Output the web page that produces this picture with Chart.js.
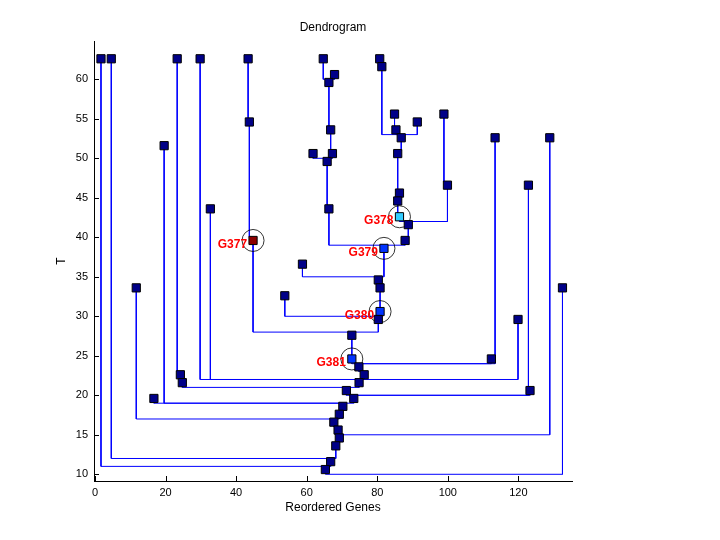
<!DOCTYPE html>
<html>
<head>
<meta charset="utf-8">
<script src="https://cdn.jsdelivr.net/npm/chart.js@4.4.1/dist/chart.umd.min.js"></script>
<style>
  html, body { margin: 0; background: #fff; }
</style>
</head>
<body>
<canvas id="dendro" width="720" height="540"></canvas>
<script>
// node positions (reordered gene position, T)
const nodeX = [1.70, 4.62, 23.3, 29.8, 43.4, 64.7, 80.7, 67.9, 66.3, 81.3,
  43.75, 66.8, 19.6, 61.8, 67.3, 65.8, 32.7, 66.3, 44.8, 84.9,
  91.35, 85.3, 86.8, 85.8, 98.9, 99.9, 86.3, 85.8, 86.3, 88.8,
  87.9, 81.9, 58.8, 80.3, 80.8, 53.8, 80.8, 80.3, 72.8, 72.8,
  74.8, 76.3, 74.85, 71.25, 73.35, 70.25, 69.25, 67.7, 68.9, 69.25,
  68.25, 66.8, 65.3, 113.4, 128.9, 122.85, 119.9, 132.5, 112.35, 123.3,
  11.7, 24.2, 24.75, 16.7];
const nodeT = [62.6, 62.6, 62.6, 62.6, 62.6, 62.6, 62.6, 60.6, 59.6, 61.6,
  54.6, 53.6, 51.6, 50.6, 50.6, 49.6, 43.6, 43.6, 39.6, 55.6,
  54.6, 53.6, 52.6, 50.6, 55.6, 46.6, 45.6, 44.6, 42.6, 41.6,
  39.6, 38.6, 36.6, 34.6, 33.6, 32.6, 30.6, 29.6, 27.6, 24.6,
  23.6, 22.6, 21.6, 20.6, 19.6, 18.6, 17.6, 16.6, 15.6, 14.6,
  13.6, 11.6, 10.6, 52.6, 52.6, 46.6, 29.6, 33.6, 24.6, 20.6,
  33.6, 22.6, 21.6, 19.6];
// parent of each node (-1 = root) and the T where the branch joins it
const nodeParent = [52, 51, 61, 42, 10, 8, 9, 8, 11, 22,
  18, 14, 45, 15, 15, 17, 42, 31, 38, 21,
  22, 22, 23, 26, 25, 29, 27, 28, 29, 30,
  31, 33, 33, 34, 36, 37, 37, 38, 39, 40,
  41, 42, 43, 44, 45, 46, 47, 48, 49, 50,
  51, 52, -1, 40, 49, 44, 42, 52, 40, 44,
  47, 62, 43, 45];
const joinT = [11, 12, 23, 22, 55, 60, 62, 60, 54, 53,
  40, 51, 19, 50, 50, 44, 22, 39, 28, 54,
  53, 53, 51, 46, 47, 42, 45, 43, 42, 40,
  39, 35, 35, 34, 31, 30, 30, 28, 25, 24,
  23, 22, 21, 20, 19, 18, 17, 16, 15, 14,
  12, 11, null, 24, 15, 20, 22, 10, 24, 20,
  17, 22, 21, 19];

// highlighted genes
const tagNodes = [18, 28, 31, 36, 39];
const tagNames = ['G377', 'G378', 'G379', 'G380', 'G381'];
const tagColors = ['#8b0000', '#33ccff', '#0033ff', '#0033ff', '#0033ff'];

const xTicks = [0, 20, 40, 60, 80, 100, 120];
const yTicks = [10, 15, 20, 25, 30, 35, 40, 45, 50, 55, 60];

const FONT = '"Liberation Sans", Arial, sans-serif';

const markerColors = nodeX.map((_, i) => {
  const k = tagNodes.indexOf(i);
  return k >= 0 ? tagColors[k] : '#000088';
});

const datasets = [];
datasets.push({
  data: nodeX.map((x, i) => ({ x: x, y: nodeT[i] })),
  pointStyle: 'rect',
  pointRadius: 5.8,
  backgroundColor: markerColors,
  borderColor: '#000',
  borderWidth: 1,
  order: 0
});
datasets.push({
  data: tagNodes.map(n => ({ x: nodeX[n], y: nodeT[n] })),
  pointStyle: 'circle',
  pointRadius: 11,
  backgroundColor: 'rgba(0,0,0,0)',
  borderColor: '#000',
  borderWidth: 0.8,
  order: 1
});
nodeParent.forEach((p, i) => {
  if (p < 0) return;
  datasets.push({
    data: [
      { x: nodeX[i], y: nodeT[i] },
      { x: nodeX[i], y: joinT[i] },
      { x: nodeX[p], y: joinT[i] },
      { x: nodeX[p], y: nodeT[p] }
    ],
    showLine: true,
    pointRadius: 0,
    borderColor: '#0000ff',
    borderWidth: 1,
    tension: 0,
    order: 5
  });
});

// MATLAB style ticks pointing into the plot
const innerTicks = {
  id: 'innerTicks',
  afterDraw(chart) {
    const { ctx, chartArea: a, scales: { x, y } } = chart;
    ctx.save();
    ctx.strokeStyle = '#000';
    ctx.lineWidth = 1;
    ctx.beginPath();
    xTicks.forEach(v => {
      const px = Math.round(x.getPixelForValue(v)) + 0.5;
      ctx.moveTo(px, a.bottom);
      ctx.lineTo(px, a.bottom - 5);
    });
    yTicks.forEach(v => {
      const py = Math.round(y.getPixelForValue(v)) + 0.5;
      ctx.moveTo(a.left, py);
      ctx.lineTo(a.left + 5, py);
    });
    ctx.stroke();
    ctx.restore();
  }
};

const geneLabels = {
  id: 'geneLabels',
  afterDatasetsDraw(chart) {
    const { ctx, scales: { x, y } } = chart;
    ctx.save();
    ctx.font = 'bold 12px ' + FONT;
    ctx.fillStyle = '#ff0000';
    ctx.textAlign = 'right';
    ctx.textBaseline = 'middle';
    tagNodes.forEach((n, i) => {
      ctx.fillText(tagNames[i], x.getPixelForValue(nodeX[n]) - 6, y.getPixelForValue(nodeT[n]) + 4);
    });
    ctx.restore();
  }
};

new Chart(document.getElementById('dendro'), {
  type: 'scatter',
  data: { datasets: datasets },
  options: {
    responsive: false,
    animation: false,
    layout: { padding: { left: 0, right: 148, top: 0, bottom: 0 } },
    plugins: {
      legend: { display: false },
      tooltip: { enabled: false },
      title: {
        display: true,
        text: 'Dendrogram',
        fullSize: false,
        color: '#000',
        font: { family: FONT, size: 12, weight: 'normal' },
        padding: { top: 20, bottom: 6.6 }
      }
    },
    scales: {
      x: {
        type: 'linear',
        min: -0.28,
        max: 135.2,
        grid: { display: false, drawTicks: false },
        border: { display: true, color: '#000', width: 1 },
        afterBuildTicks: s => { s.ticks = xTicks.map(v => ({ value: v })); },
        afterFit: s => { s.height = 59; },
        ticks: { color: '#000', font: { family: FONT, size: 11 }, padding: 5, maxRotation: 0 },
        title: { display: true, text: 'Reordered Genes', color: '#000', font: { family: FONT, size: 12 }, padding: { top: 0, bottom: 25 } }
      },
      y: {
        type: 'linear',
        min: 9.15,
        max: 64.85,
        grid: { display: false, drawTicks: false },
        border: { display: true, color: '#000', width: 1 },
        afterBuildTicks: s => { s.ticks = yTicks.map(v => ({ value: v })); },
        afterFit: s => { s.width = 94; },
        ticks: { color: '#000', font: { family: FONT, size: 11 }, padding: 6 },
        title: { display: true, text: 'T', color: '#000', font: { family: FONT, size: 12 }, padding: { top: 54, bottom: 0 } }
      }
    }
  },
  plugins: [innerTicks, geneLabels]
});
</script>
</body>
</html>
